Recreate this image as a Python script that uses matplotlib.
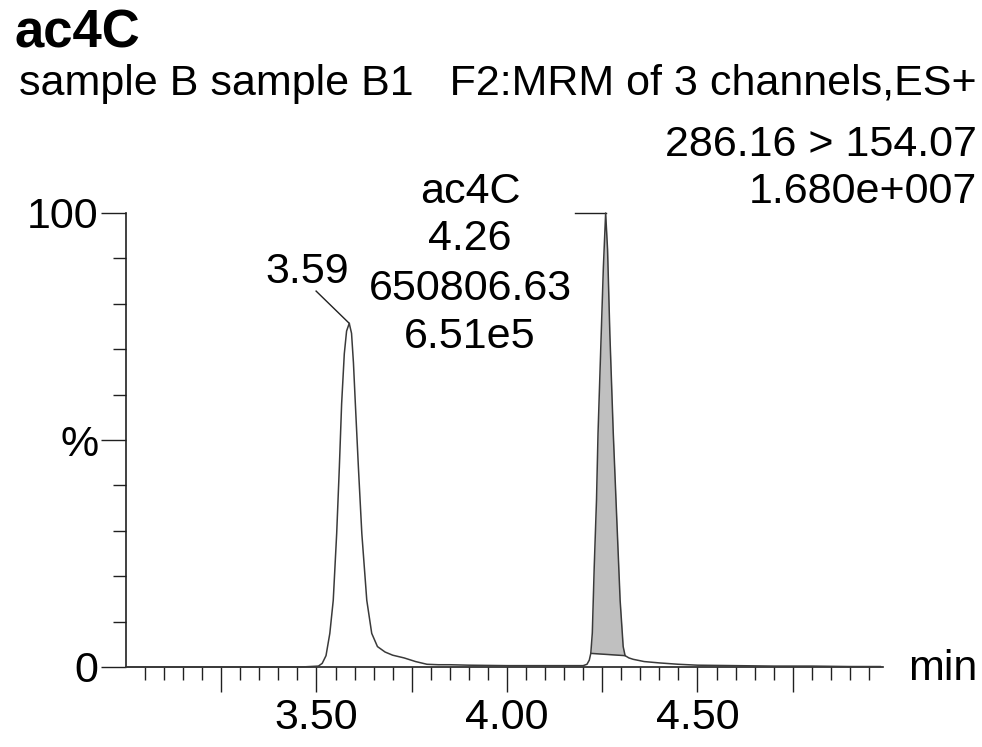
import numpy as np
import matplotlib.pyplot as plt

plt.rcParams['font.family'] = ['Liberation Sans', 'DejaVu Sans']

# trace: retention time (min) and relative intensity (%)
rt = [3.00, 3.20, 3.40, 3.46, 3.505, 3.515, 3.525, 3.535, 3.544, 3.553, 3.560, 3.566,
      3.573, 3.579, 3.586, 3.592, 3.597, 3.602, 3.610, 3.619, 3.632, 3.645, 3.660,
      3.680, 3.700, 3.730, 3.760, 3.790, 3.820, 3.850, 3.900, 4.000, 4.100, 4.200,
      4.210, 4.216, 4.220, 4.224, 4.229, 4.235, 4.239, 4.246, 4.253, 4.259, 4.264,
      4.270, 4.279, 4.288, 4.297, 4.305, 4.310, 4.320, 4.331, 4.360, 4.400, 4.450,
      4.500, 4.600, 4.700, 4.800, 4.900, 4.980]
intensity = [0.0, 0.0, 0.0, 0.0, 0.2, 0.8, 2.5, 7.4, 14.7, 29.4, 44.0, 58.0,
             69.0, 74.0, 75.7, 73.5, 67.0, 58.0, 44.0, 29.4, 14.7, 7.4, 4.5,
             3.3, 2.6, 2.0, 1.2, 0.6, 0.5, 0.5, 0.4, 0.3, 0.3, 0.3,
             0.6, 1.5, 3.0, 7.5, 22.0, 36.8, 51.5, 69.8, 88.0, 100.0, 92.0,
             73.5, 51.5, 33.0, 14.7, 4.5, 2.5, 2.0, 1.7, 1.2, 0.9, 0.6,
             0.4, 0.3, 0.2, 0.2, 0.1, 0.1]

# integrated peak (ac4C) and its drawn baseline
peak_start, peak_end = 4.220, 4.310
base_rt = [4.220, 4.310]
base_int = [3.0, 2.5]

peak1_rt, peak1_int = 3.586, 75.7
peak2_rt, peak2_int = 4.259, 100.0
peak2_lines = ['ac4C', '4.26', '650806.63', '6.51e5']

FS = 31
W, H = 982, 747
fig = plt.figure(figsize=(W / 100, H / 100), dpi=100)
ax = fig.add_axes([126 / W, 1 - 667 / H, 757 / W, 454 / H])

line_col = '#3a3a3a'
rt_a = np.array(rt)
int_a = np.array(intensity)
ax.plot(rt_a, int_a, color=line_col, lw=1.1, clip_on=False, zorder=3)

sel = (rt_a >= peak_start) & (rt_a <= peak_end)
base_sel = np.interp(rt_a[sel], base_rt, base_int)
ax.fill_between(rt_a[sel], base_sel, int_a[sel], color='#c0c0c0', lw=0, zorder=2)
ax.plot(base_rt, base_int, color=line_col, lw=1.1, zorder=3)

ax.set_xlim(3.0, 4.987)
ax.set_ylim(0, 100)
for s in ['top', 'right']:
    ax.spines[s].set_visible(False)
for s in ['left', 'bottom']:
    ax.spines[s].set_linewidth(1.2)
    ax.spines[s].set_color('#202020')

major_x = [3.25, 3.50, 3.75, 4.00, 4.25, 4.50, 4.75]
major_x_labels = ['', '3.50', '', '4.00', '', '4.50', '']
minor_x = [round(3.05 + 0.05 * i, 2) for i in range(39)]
minor_x = [v for v in minor_x if v not in major_x]
ax.set_xticks(major_x)
ax.set_xticklabels(major_x_labels)
ax.set_xticks(minor_x, minor=True)

ax.set_yticks([0, 50, 100])
ax.set_yticklabels(['0', '%', '100'])
ax.set_yticks([10, 20, 30, 40, 60, 70, 80, 90], minor=True)

ax.tick_params(which='major', length=18, width=1.0, color='#202020',
               labelsize=FS, pad=2)
ax.tick_params(which='minor', length=9.4, width=1.0, color='#202020')
ax.tick_params(axis='x', which='major', pad=4)

# peak labels
ax.plot([3.499, peak1_rt], [82.8, peak1_int], color='#202020', lw=1.0, clip_on=False)
ax.text(3.475, 84.6, '3.59', fontsize=FS, ha='center', va='baseline')
ax.plot([4.178, peak2_rt], [peak2_int, peak2_int], color='#202020', lw=1.0, clip_on=False)
for txt, yb in zip(peak2_lines, [102.2, 91.9, 80.8, 70.3]):
    ax.text(3.903, yb, txt, fontsize=FS, ha='center', va='baseline', clip_on=False)

# header
fig.text(14 / W, 1 - 48 / H, 'ac4C', fontsize=38, fontweight='bold', va='baseline')
fig.text(977 / W, 1 - 95 / H, 'sample B sample B1   F2:MRM of 3 channels,ES+',
         fontsize=FS, ha='right', va='baseline')
fig.text(977 / W, 1 - 156 / H, '286.16 > 154.07', fontsize=FS, ha='right', va='baseline')
fig.text(977 / W, 1 - 203 / H, '1.680e+007', fontsize=FS, ha='right', va='baseline')
fig.text(908 / W, 1 - 680 / H, 'min', fontsize=FS, ha='left', va='baseline')

fig.savefig('out.png', dpi=100, facecolor='white')
